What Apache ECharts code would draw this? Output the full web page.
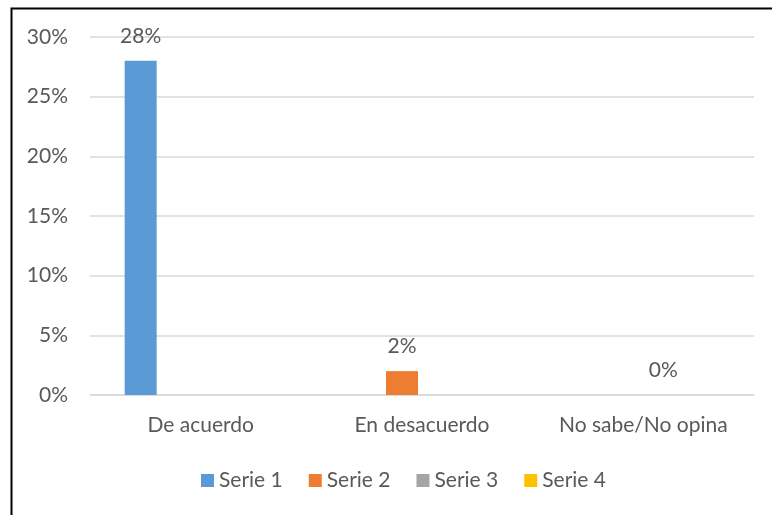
<!DOCTYPE html>
<html>
<head>
<meta charset="utf-8">
<script src="https://cdn.jsdelivr.net/npm/echarts@6/dist/echarts.min.js"></script>
<style>
  html, body { margin: 0; padding: 0; background: #fff; }
  #chart { width: 772px; height: 515px; }
</style>
</head>
<body>
<div id="chart"></div>
<script>
// datos del gráfico
var categories = ['De acuerdo', 'En desacuerdo', 'No sabe/No opina']
var seriesNames = ['Serie 1', 'Serie 2', 'Serie 3', 'Serie 4']
var serie1 = [28, null, null]
var serie2 = [null, 2, null]
var serie3 = [null, null, 0]
var serie4 = [null, null, null]
var colors = ['#5b9bd5', '#ed7d31', '#a5a5a5', '#ffc000']

var textColor = '#595959'
var fontFamily = 'Lato, "Open Sans", sans-serif'
var fontSize = 21

var chart = echarts.init(document.getElementById('chart'))

function makeSeries(name, data, color) {
  return {
    name: name,
    type: 'bar',
    data: data,
    barWidth: 32,
    barGap: '25%',
    itemStyle: { color: color },
    label: {
      show: true,
      position: 'top',
      distance: 14,
      color: textColor,
      fontFamily: fontFamily,
      fontSize: fontSize,
      formatter: function (p) { return p.value + '%' }
    },
    animation: false
  }
}

chart.setOption({
  color: colors,
  graphic: [{
    type: 'rect',
    left: 9,
    top: 6,
    shape: { width: 780, height: 530 },
    style: { fill: 'none', stroke: '#000', lineWidth: 2 },
    silent: true
  }],
  grid: { left: 90, right: 18, top: 37, bottom: 120 },
  legend: {
    top: 465,
    left: 196,
    itemWidth: 13,
    itemHeight: 13,
    itemGap: 26,
    icon: 'rect',
    textStyle: { color: textColor, fontFamily: fontFamily, fontSize: fontSize },
    data: seriesNames
  },
  xAxis: {
    type: 'category',
    data: categories,
    axisLine: { lineStyle: { color: '#d9d9d9', width: 1.5 } },
    axisTick: { show: false },
    axisLabel: { color: textColor, fontFamily: fontFamily, fontSize: fontSize, margin: 20 }
  },
  yAxis: {
    type: 'value',
    min: 0,
    max: 30,
    interval: 5,
    axisLine: { show: false },
    axisTick: { show: false },
    splitLine: { lineStyle: { color: '#d9d9d9', width: 1.5 } },
    axisLabel: {
      color: textColor, fontFamily: fontFamily, fontSize: fontSize, margin: 22,
      formatter: '{value}%'
    }
  },
  series: [
    makeSeries(seriesNames[0], serie1, colors[0]),
    makeSeries(seriesNames[1], serie2, colors[1]),
    makeSeries(seriesNames[2], serie3, colors[2]),
    makeSeries(seriesNames[3], serie4, colors[3])
  ]
})
</script>
</body>
</html>
